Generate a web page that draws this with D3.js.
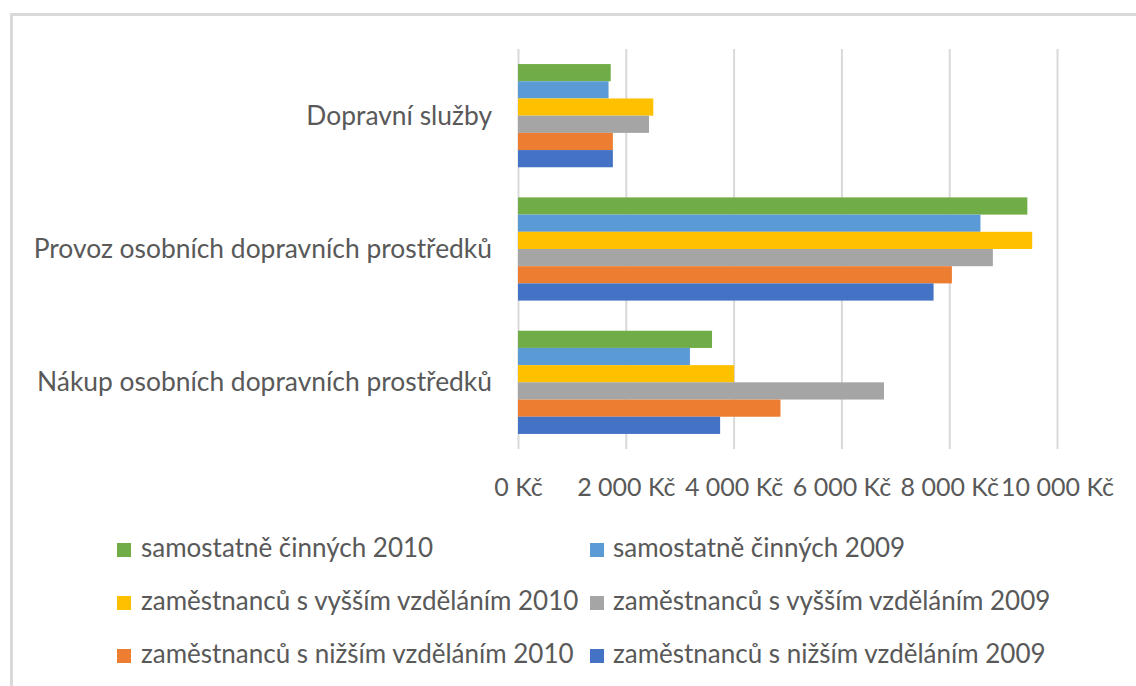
<!DOCTYPE html>
<html>
<head>
<meta charset="utf-8">
<script src="https://cdn.jsdelivr.net/npm/d3@7"></script>
<style>
  body { margin: 0; background: #fff; }
  text { font-family: Lato, "Open Sans", sans-serif; fill: #595959; }
</style>
</head>
<body>
<div id="chart"></div>
<script>
// Data
const categories = ["Dopravní služby", "Provoz osobních dopravních prostředků", "Nákup osobních dopravních prostředků"];
const seriesNames = [
    "samostatně činných 2010",
    "samostatně činných 2009",
    "zaměstnanců s vyšším vzděláním 2010",
    "zaměstnanců s vyšším vzděláním 2009",
    "zaměstnanců s nižším vzděláním 2010",
    "zaměstnanců s nižším vzděláním 2009"
];
const samostatne2010 = [1720, 9450, 3600];
const samostatne2009 = [1680, 8580, 3190];
const vyssi2010 = [2510, 9540, 4010];
const vyssi2009 = [2430, 8810, 6790];
const nizsi2010 = [1760, 8050, 4870];
const nizsi2009 = [1760, 7710, 3750];
const xTicks = [0, 2000, 4000, 6000, 8000, 10000];
const colors = ["#70AD47", "#5B9BD5", "#FFC000", "#A5A5A5", "#ED7D31", "#4472C4"];

const seriesValues = [samostatne2010, samostatne2009, vyssi2010, vyssi2009, nizsi2010, nizsi2009];

const W = 1136, H = 686;
const plot = {left: 518, right: 1057, top: 49, bottom: 449};

const svg = d3.select("#chart").append("svg")
    .attr("width", W)
    .attr("height", H);

// chart frame
svg.append("rect")
    .attr("x", 11.5).attr("y", 14.5)
    .attr("width", W).attr("height", H)
    .attr("fill", "#fff")
    .attr("stroke", "#d9d9d9")
    .attr("stroke-width", 3);

const x = d3.scaleLinear()
    .domain([0, 10000])
    .range([plot.left, plot.right]);

const y = d3.scaleBand()
    .domain(categories)
    .range([plot.top, plot.bottom])
    .paddingInner(0.226)
    .paddingOuter(0.113);

const ySub = d3.scaleBand()
    .domain(seriesNames)
    .range([0, y.bandwidth()]);

const locale = d3.formatLocale({decimal: ",", thousands: "\u00a0", grouping: [3], currency: ["", "\u00a0Kč"]});
const fmt = locale.format("$,");

// gridlines + tick labels
const xAxis = d3.axisBottom(x)
    .tickValues(xTicks)
    .tickSize(-(plot.bottom - plot.top))
    .tickFormat(fmt);

const xAxisGroup = svg.append("g")
    .attr("class", "axis x-axis")
    .attr("transform", `translate(0,${plot.bottom})`)
    .call(xAxis);

xAxisGroup.select(".domain").remove();
xAxisGroup.selectAll("line")
    .attr("stroke", "#d9d9d9")
    .attr("stroke-width", 2);
xAxisGroup.selectAll("text")
    .attr("y", 47)
    .attr("dy", 0)
    .attr("fill", "#595959")
    .style("font-size", "25px")
    .style("font-family", "Lato, sans-serif");

// bars
const groups = svg.append("g")
    .selectAll("g")
    .data(categories)
    .join("g")
    .attr("transform", d => `translate(0,${y(d)})`);

groups.selectAll("rect")
    .data((c, i) => seriesNames.map((s, k) => ({series: s, value: seriesValues[k][i], k})))
    .join("rect")
    .attr("x", x(0))
    .attr("y", d => ySub(d.series))
    .attr("width", d => x(d.value) - x(0))
    .attr("height", ySub.bandwidth())
    .attr("fill", d => colors[d.k]);

// category labels
svg.append("g")
    .selectAll("text")
    .data(categories)
    .join("text")
    .attr("x", 492)
    .attr("y", d => y(d) + y.bandwidth() / 2 + 9)
    .attr("text-anchor", "end")
    .style("font-size", "26.4px")
    .text(d => d);

// legend
const legendCols = [117, 590];
const legendRows = [557, 610, 663];
const legend = svg.append("g")
    .selectAll("g")
    .data(seriesNames)
    .join("g")
    .attr("transform", (d, i) => `translate(${legendCols[i % 2]},${legendRows[Math.floor(i / 2)]})`);

legend.append("rect")
    .attr("x", 0).attr("y", -14)
    .attr("width", 14).attr("height", 14)
    .attr("fill", (d, i) => colors[i]);

legend.append("text")
    .attr("x", (d, i) => i % 2 ? 23 : 24)
    .attr("y", 0)
    .style("font-size", "26px")
    .text(d => d);
</script>
</body>
</html>
